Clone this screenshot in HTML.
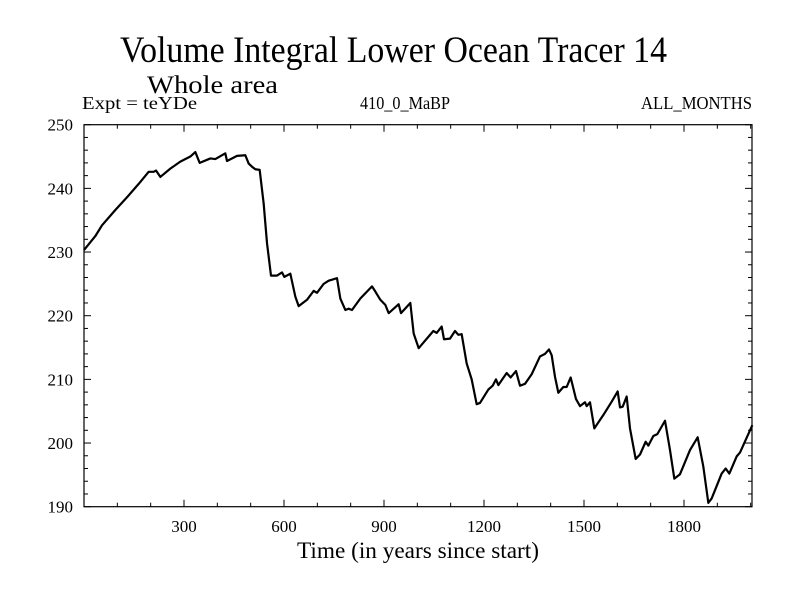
<!DOCTYPE html>
<html><head><meta charset="utf-8"><style>
html,body{margin:0;padding:0;background:#fff;}
svg{display:block;font-family:"Liberation Serif",serif;}
</style></head><body>
<svg id="chart" width="800" height="600" xmlns="http://www.w3.org/2000/svg">
<rect width="800" height="600" fill="#fff"/>
<text x="120" y="62" font-size="37" textLength="547" lengthAdjust="spacingAndGlyphs">Volume Integral Lower Ocean Tracer 14</text>
<text x="147" y="93" font-size="25" textLength="131" lengthAdjust="spacingAndGlyphs">Whole area</text>
<text x="82" y="109" font-size="18" textLength="115" lengthAdjust="spacingAndGlyphs">Expt = teYDe</text>
<text x="360" y="109" font-size="18" textLength="90" lengthAdjust="spacingAndGlyphs">410_0_MaBP</text>
<text x="641" y="109" font-size="18" textLength="111" lengthAdjust="spacingAndGlyphs">ALL_MONTHS</text>
<text x="418" y="558" font-size="23" text-anchor="middle" textLength="242" lengthAdjust="spacingAndGlyphs">Time (in years since start)</text>
<g id="axes"></g>
<path id="line" fill="none" stroke="#000" stroke-width="2.2" stroke-linejoin="round"/>
<rect x="84" y="124.7" width="668" height="382" fill="none" stroke="#000" stroke-width="1.2"/>
</svg>
<script>
const years = [0,34,54,94,129,164,194,209,216,229,259,289,319,334,347,379,394,424,429,459,484,494,504,514,527,539,549,561,579,594,601,619,634,644,669,689,699,719,734,759,769,784,794,804,829,864,874,889,904,914,944,951,979,989,1004,1048,1058,1073,1080,1098,1113,1123,1133,1148,1163,1178,1188,1213,1226,1236,1243,1268,1280,1296,1308,1323,1343,1368,1383,1395,1403,1413,1423,1438,1448,1460,1476,1488,1503,1508,1518,1531,1558,1583,1601,1608,1616,1628,1638,1655,1668,1685,1693,1708,1720,1743,1758,1771,1788,1818,1841,1858,1873,1883,1913,1925,1936,1958,1968,2005];
const values = [230.3,232.5,234.2,236.6,238.6,240.7,242.6,242.6,242.8,241.8,243.1,244.2,245.0,245.7,244.0,244.7,244.6,245.5,244.3,245.1,245.2,243.9,243.4,243.0,242.9,237.6,231.4,226.3,226.3,226.8,226.1,226.6,223.0,221.5,222.5,223.9,223.6,225.0,225.5,225.9,222.7,220.9,221.1,220.9,222.7,224.6,223.8,222.5,221.7,220.4,221.8,220.4,222.0,217.2,214.9,217.6,217.3,218.3,216.3,216.4,217.6,217.0,217.1,212.5,210.0,206.1,206.3,208.4,209.0,210.0,209.1,211.0,210.3,211.3,209.0,209.3,210.8,213.6,214.0,214.7,213.8,210.4,207.9,208.8,208.8,210.3,206.9,205.8,206.4,205.8,206.4,202.3,204.4,206.5,208.1,205.6,205.7,207.3,202.3,197.5,198.2,200.2,199.6,201.1,201.4,203.5,198.9,194.4,195.1,198.9,200.9,196.3,190.6,191.3,195.2,196.0,195.2,197.9,198.5,202.8];
const xTickLabels = [300,600,900,1200,1500,1800];
const yTickLabels = [190,200,210,220,230,240,250];

const X0=84,X1=752,Y0=506.7,Y1=124.7;
const xMin=0,xMax=2004,yMin=190,yMax=250;
function sx(v){return X0+(v-xMin)/(xMax-xMin)*(X1-X0);}
function sy(v){return Y0-(v-yMin)/(yMax-yMin)*(Y0-Y1);}
const NS="http://www.w3.org/2000/svg";
const axes=document.getElementById('axes');
function ln(x1,y1,x2,y2,name){
  const l=document.createElementNS(NS,'line');
  l.setAttribute('x1',x1);l.setAttribute('y1',y1);l.setAttribute('x2',x2);l.setAttribute('y2',y2);
  l.setAttribute('stroke','#000');l.setAttribute('stroke-width','1');
  
  
  axes.appendChild(l);
}
function tx(x,y,s,anchor,name){
  const t=document.createElementNS(NS,'text');
  t.setAttribute('x',x);t.setAttribute('y',y);t.setAttribute('font-size','17');
  t.setAttribute('text-anchor',anchor);t.textContent=s;
  
  
  axes.appendChild(t);
}
for(let v=100;v<xMax;v+=100){
  const major=v%300===0, L=major?7:4, x=sx(v);
  ln(x,Y0,x,Y0-L,'x-tick');ln(x,Y1,x,Y1+L,'x-tick-top');
}
xTickLabels.forEach(v=>tx(sx(v),532,String(v),'middle','x-tick-label'));
for(let v=yMin;v<=yMax;v+=2){
  const major=v%10===0, L=major?7:4, y=sy(v);
  ln(X0,y,X0+L,y,'y-tick');ln(X1,y,X1-L,y,'y-tick-right');
}
yTickLabels.forEach(v=>tx(73,sy(v)+6,String(v),'end','y-tick-label'));
let d='';
years.forEach((yr,i)=>{d+=(i?'L':'M')+sx(yr).toFixed(2)+','+sy(values[i]).toFixed(2);});
document.getElementById('line').setAttribute('d',d);
</script>
</body></html>
